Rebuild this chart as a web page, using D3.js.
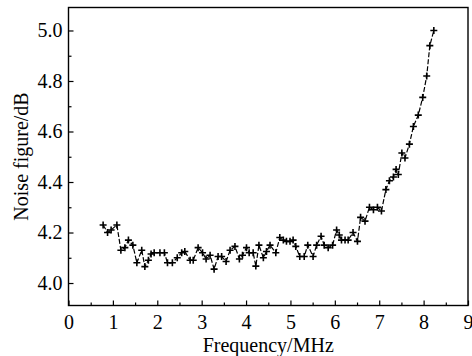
<!DOCTYPE html>
<html>
<head>
<meta charset="utf-8">
<script src="https://cdn.jsdelivr.net/npm/d3@7"></script>
<style>
  body { margin: 0; background: #fff; }
  svg { display: block; }
  text { font-family: "Liberation Serif", "DejaVu Serif", serif; fill: #000; }
</style>
</head>
<body>
<svg id="chart" width="472" height="356"></svg>
<script>
const freq = [0.78, 0.88, 0.96, 1.09, 1.18, 1.27, 1.35, 1.45, 1.54, 1.65,
  1.72, 1.80, 1.86, 1.93, 2.06, 2.16, 2.23, 2.34, 2.45, 2.55,
  2.62, 2.74, 2.81, 2.92, 3.02, 3.10, 3.19, 3.28, 3.37, 3.45,
  3.55, 3.64, 3.75, 3.85, 3.92, 4.01, 4.07, 4.16, 4.22, 4.29,
  4.39, 4.46, 4.54, 4.67, 4.76, 4.84, 4.91, 4.99, 5.06, 5.12,
  5.21, 5.31, 5.39, 5.51, 5.59, 5.69, 5.76, 5.85, 5.95, 6.04,
  6.10, 6.15, 6.23, 6.30, 6.41, 6.51, 6.58, 6.68, 6.78, 6.87,
  6.96, 7.05, 7.15, 7.23, 7.32, 7.38, 7.43, 7.51, 7.58, 7.68,
  7.77, 7.88, 7.98, 8.07, 8.14, 8.23];
const noise = [4.23, 4.20, 4.21, 4.23, 4.13, 4.14, 4.17, 4.15, 4.08, 4.13,
  4.065, 4.09, 4.115, 4.12, 4.12, 4.12, 4.08, 4.08, 4.10, 4.12,
  4.125, 4.09, 4.09, 4.14, 4.12, 4.095, 4.11, 4.055, 4.105, 4.105,
  4.085, 4.13, 4.145, 4.095, 4.11, 4.14, 4.12, 4.12, 4.067, 4.15,
  4.10, 4.125, 4.15, 4.12, 4.18, 4.17, 4.165, 4.165, 4.17, 4.145,
  4.105, 4.105, 4.15, 4.105, 4.15, 4.185, 4.15, 4.14, 4.15, 4.21,
  4.19, 4.17, 4.17, 4.17, 4.20, 4.165, 4.26, 4.245, 4.30, 4.29,
  4.30, 4.285, 4.37, 4.405, 4.42, 4.45, 4.43, 4.515, 4.495, 4.55,
  4.62, 4.665, 4.735, 4.82, 4.94, 5.00];
const xTicks = [0, 1, 2, 3, 4, 5, 6, 7, 8, 9];
const yTicks = [4.0, 4.2, 4.4, 4.6, 4.8, 5.0];

const svg = d3.select('#chart');
const mLeft = 68.5, mRight = 468, mTop = 7.5, mBottom = 305.5;
const fs = 20;

const x = d3.scaleLinear().domain([0, 9]).range([mLeft, mRight]);
const y = d3.scaleLinear().domain([3.911, 5.091]).range([mBottom, mTop]);

const data = freq.map((f, i) => ({ f: f, v: noise[i] }));

// frame
svg.append('rect')
  .attr('x', mLeft).attr('y', mTop)
  .attr('width', mRight - mLeft).attr('height', mBottom - mTop)
  .attr('fill', 'none').attr('stroke', '#000').attr('stroke-width', 1.4);

// x axis, ticks pointing inward
const xMinor = d3.range(0.5, 9, 1);
svg.append('g')
  .attr('transform', 'translate(0,' + mBottom + ')')
  .call(d3.axisBottom(x).tickValues(xMinor).tickSize(-3).tickFormat(''))
  .call(g => g.select('.domain').remove());
svg.append('g')
  .attr('transform', 'translate(0,' + mBottom + ')')
  .call(d3.axisBottom(x).tickValues(xTicks).tickSize(-5).tickPadding(9).tickFormat(d3.format('d')))
  .call(g => g.select('.domain').remove())
  .call(g => g.selectAll('text').attr('font-size', fs).attr('font-family', '"Liberation Serif", serif'));

// y axis
const yMinor = [3.9, 4.1, 4.3, 4.5, 4.7, 4.9, 5.1].filter(d => d > 3.911 && d < 5.091);
svg.append('g')
  .attr('transform', 'translate(' + mLeft + ',0)')
  .call(d3.axisLeft(y).tickValues(yMinor).tickSize(-3).tickFormat(''))
  .call(g => g.select('.domain').remove());
svg.append('g')
  .attr('transform', 'translate(' + mLeft + ',0)')
  .call(d3.axisLeft(y).tickValues(yTicks).tickSize(-5).tickPadding(6).tickFormat(d3.format('.1f')))
  .call(g => g.select('.domain').remove())
  .call(g => g.selectAll('text').attr('font-size', fs).attr('font-family', '"Liberation Serif", serif'));

svg.selectAll('.tick line').attr('stroke', '#000').attr('stroke-width', 1.2);

// dashed connecting line
const line = d3.line().x(d => x(d.f)).y(d => y(d.v));
svg.append('path')
  .datum(data)
  .attr('d', line)
  .attr('fill', 'none')
  .attr('stroke', '#000')
  .attr('stroke-width', 1.2)
  .attr('stroke-dasharray', '5,2');

// plus markers
const s = 3.5;
svg.append('g').selectAll('path.mark')
  .data(data).enter()
  .append('path')
  .attr('class', 'mark')
  .attr('d', d => {
    let cx = x(d.f), cy = y(d.v);
    return 'M' + (cx - s) + ',' + cy + 'H' + (cx + s) + 'M' + cx + ',' + (cy - s) + 'V' + (cy + s);
  })
  .attr('stroke', '#000')
  .attr('stroke-width', 1.6);

// axis titles
svg.append('text')
  .attr('x', (mLeft + mRight) / 2).attr('y', 352)
  .attr('text-anchor', 'middle')
  .attr('font-size', fs)
  .text('Frequency/MHz');

svg.append('text')
  .attr('transform', 'translate(28,' + (mTop + mBottom) / 2 + ') rotate(-90)')
  .attr('text-anchor', 'middle')
  .attr('font-size', fs)
  .text('Noise figure/dB');
</script>
</body>
</html>
